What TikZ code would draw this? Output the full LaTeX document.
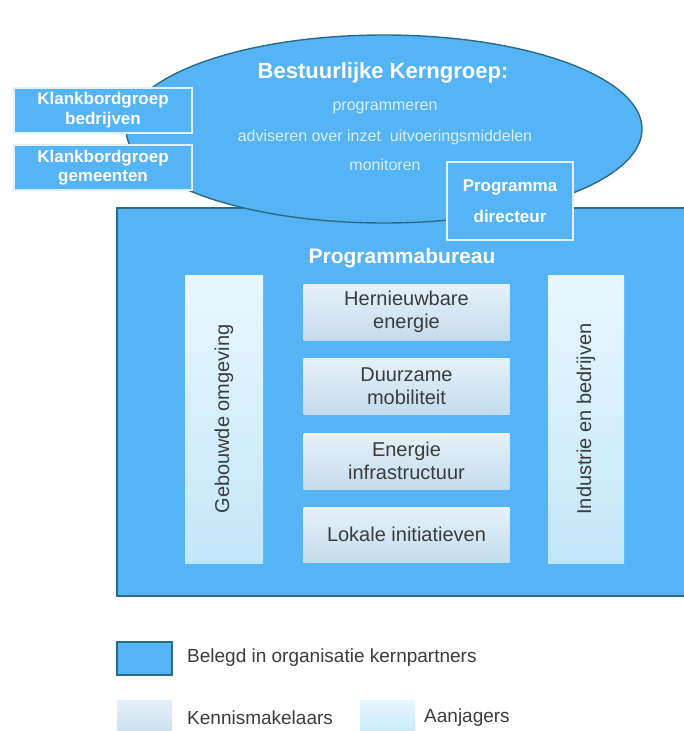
\documentclass[tikz,border=0pt]{standalone}
\usepackage{fontspec}
\setmainfont{Liberation Sans}
\usetikzlibrary{shapes.geometric}
\definecolor{mainblue}{HTML}{55B4F5}
\definecolor{darkedge}{HTML}{2A6C86}
\definecolor{lightedge}{HTML}{DDF1FC}
\definecolor{txtgray}{HTML}{3C3C3C}
\definecolor{subwhite}{HTML}{D6EEFD}
\definecolor{kmtop}{HTML}{E6F1F8}
\definecolor{kmbot}{HTML}{C4DCEE}
\definecolor{ajtop}{HTML}{E8F7FE}
\definecolor{ajbot}{HTML}{C2E6F9}
\newcommand{\fsz}[2]{\fontsize{#1}{#2}\selectfont}
\begin{document}
\begin{tikzpicture}[x=1pt,y=-1pt,
  mainbox/.style={draw=darkedge, line width=1.6pt, fill=mainblue, inner sep=0pt},
  kernell/.style={ellipse, draw=darkedge, line width=1.4pt, fill=mainblue, inner sep=0pt},
  lightbox/.style={draw=lightedge, line width=2.2pt, fill=mainblue, inner sep=0pt, text=white, align=center, font=\bfseries},
  kmbox/.style={top color=kmtop, bottom color=kmbot, draw=none, inner sep=0pt, text=txtgray, align=center, font=\fsz{20}{23.5}},
  ajbox/.style={top color=ajtop, bottom color=ajbot, draw=none, inner sep=0pt, text=txtgray, align=center, font=\fsz{20}{23.5}},
  subtxt/.style={text=subwhite, inner sep=0pt, font=\fsz{16}{19}},
  legtxt/.style={text=txtgray, anchor=west, inner sep=0pt, font=\fsz{19}{22}}
]
\useasboundingbox (0,0) rectangle (683,731);
\fill[white] (0,0) rectangle (683,731);

% Programmabureau (main box)
\node[mainbox, minimum width=569pt, minimum height=388pt] (bureau) at (401.5,402) {};

% Bestuurlijke Kerngroep ellipse
\node[kernell, minimum width=516pt, minimum height=188pt] (kern) at (384,129) {};
\node[text=white, inner sep=0pt, font=\fsz{22}{26}\bfseries] (kerntitle) at (383,73) {Bestuurlijke Kerngroep:};
\node[subtxt] (prog) at (385,108) {programmeren};
\node[subtxt] (advis) at (385,137) {adviseren over inzet\ \ uitvoeringsmiddelen};
\node[subtxt] (monit) at (385,165) {monitoren};

% Klankbordgroepen
\node[lightbox, minimum width=178pt, minimum height=45pt, font=\fsz{17}{20}\bfseries] (kbbedr) at (103,110.5) {Klankbordgroep\\bedrijven};
\node[lightbox, minimum width=178pt, minimum height=45pt, font=\fsz{17}{19}\bfseries] (kbgem) at (103,167.5) {Klankbordgroep\\gemeenten};

% Programma directeur
\node[lightbox, minimum width=126pt, minimum height=78pt, font=\fsz{17}{31}\bfseries] (pdir) at (510,201) {Programma\\directeur};

% Programmabureau title
\node[text=white, inner sep=0pt, font=\fsz{21}{25}\bfseries] (pbtitle) at (402,258) {Programmabureau};

% Aanjagers (side columns)
\node[ajbox, minimum width=78pt, minimum height=288pt] (gebouwd) at (224,419) {};
\node[text=txtgray, rotate=90, inner sep=0pt, font=\fsz{20}{24}] (gebouwdtxt) at (gebouwd.center) {Gebouwde omgeving};
\node[ajbox, minimum width=76pt, minimum height=288pt] (industrie) at (586,419) {};
\node[text=txtgray, rotate=90, inner sep=0pt, font=\fsz{20}{24}] (industrietxt) at (industrie.center) {Industrie en bedrijven};

% Kennismakelaars (center column)
\node[kmbox, minimum width=206pt, minimum height=56pt] (hernieuw) at (406.5,312) {Hernieuwbare\\energie};
\node[kmbox, minimum width=206pt, minimum height=56pt] (duurzaam) at (406.5,386) {Duurzame\\mobiliteit};
\node[kmbox, minimum width=206pt, minimum height=56pt] (infra) at (406.5,461) {Energie\\infrastructuur};
\node[kmbox, minimum width=206pt, minimum height=55pt] (lokaal) at (406.5,534.5) {Lokale initiatieven};

% Legend
\node[mainbox, minimum width=55pt, minimum height=33pt] (leg1) at (144.5,658.5) {};
\node[legtxt] (leg1txt) at (187,658) {Belegd in organisatie kernpartners};
\node[kmbox, minimum width=55pt, minimum height=40pt] (leg2) at (144.5,720) {};
\node[legtxt] (leg2txt) at (187,718) {Kennismakelaars};
\node[ajbox, minimum width=55pt, minimum height=40pt] (leg3) at (387.5,720) {};
\node[legtxt] (leg3txt) at (424,718) {Aanjagers};
\end{tikzpicture}
\end{document}
